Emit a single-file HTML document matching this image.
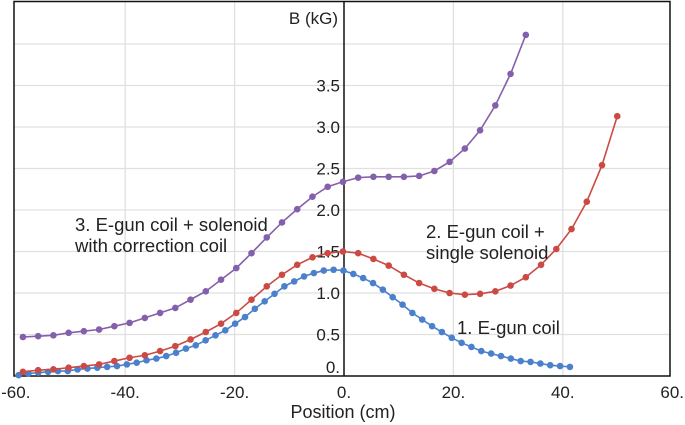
<!DOCTYPE html>
<html><head><meta charset="utf-8"><style>
html,body{margin:0;padding:0;background:#fff;}
svg{display:block;font-family:"Liberation Sans","DejaVu Sans",sans-serif;}
</style></head><body>
<svg id="chart" width="685" height="425" viewBox="0 0 685 425"></svg>
<script>
const xTicks=[-60,-40,-20,0,20,40,60];
const xTickLabels=["-60.","-40.","-20.","0.","20.","40.","60."];
const yTicks=[0,0.5,1.0,1.5,2.0,2.5,3.0,3.5];
const yTickLabels=["0.","0.5","1.0","1.5","2.0","2.5","3.0","3.5"];
const yGrid=[0.5,1.0,1.5,2.0,2.5,3.0,3.5,4.0];
const blueStart=-59.5, blueStep=1.8;
const blueB=[0.01,0.03,0.04,0.05,0.06,0.06,0.08,0.09,0.10,0.11,0.12,0.14,0.16,0.19,0.21,0.24,0.28,0.33,0.37,0.43,0.49,0.55,0.63,0.71,0.81,0.90,0.99,1.08,1.14,1.20,1.24,1.27,1.28,1.27,
1.23,1.18,1.12,1.04,0.95,0.86,0.76,0.68,0.60,0.53,0.46,0.40,0.35,0.30,0.27,0.24,0.21,0.18,0.17,0.15,0.13,0.12,0.11];
const redStart=-58.7, redStep=2.786;
const redB=[0.05,0.07,0.08,0.10,0.12,0.14,0.18,0.22,0.25,0.30,0.36,0.44,0.53,0.63,0.76,0.92,1.08,1.22,1.34,1.43,1.48,1.50,
1.48,1.41,1.33,1.22,1.12,1.05,1.00,0.98,0.99,1.02,1.09,1.19,1.34,1.53,1.77,2.10,2.54,3.13];
const purpleStart=-58.7, purpleStep=2.786;
const purpleB=[0.47,0.48,0.49,0.52,0.54,0.56,0.60,0.64,0.70,0.76,0.82,0.92,1.02,1.16,1.30,1.48,1.67,1.85,2.01,2.16,2.28,2.34,
2.39,2.40,2.40,2.40,2.41,2.47,2.58,2.74,2.96,3.26,3.64,4.11];

const NS="http://www.w3.org/2000/svg";
const svg=document.getElementById('chart');
const X=v=>344+v*5.47;
const Y=v=>376-v*83;
function mk(tag,attrs,parent){const e=document.createElementNS(NS,tag);for(const k in attrs)e.setAttribute(k,attrs[k]);(parent||svg).appendChild(e);return e;}

xTicks.forEach(t=>{ if(t===0||Math.abs(t)===60) return;
  const l=mk('line',{x1:X(t),x2:X(t),y1:2,y2:376,stroke:'#e0e0e0','stroke-width':1.3});
  
  
});
yGrid.forEach(t=>{
  const l=mk('line',{x1:14,x2:670,y1:Y(t),y2:Y(t),stroke:'#e0e0e0','stroke-width':1.3});
  
  
});
const fr=mk('rect',{x:14,y:1.5,width:656,height:374.5,fill:'none',stroke:'#111','stroke-width':1.5});


const ya=mk('line',{x1:X(0),x2:X(0),y1:1.5,y2:376,stroke:'#111','stroke-width':1.5});



xTicks.forEach((t,i)=>{
  const e=mk('text',{x:X(t),y:398,'text-anchor':'middle','font-size':17,fill:'#222'});
  e.textContent=xTickLabels[i];
  
  
});
yTicks.forEach((t,i)=>{
  const e=mk('text',{x:340,y:Y(t)+(t===0?-3:6),'text-anchor':'end','font-size':17,fill:'#222'});
  e.textContent=yTickLabels[i];
  
  
});
const yt=mk('text',{x:338,y:24,'text-anchor':'end','font-size':17,fill:'#222'});
yt.textContent='B (kG)';


const xt=mk('text',{x:343,y:418,'text-anchor':'middle','font-size':18,fill:'#222'});
xt.textContent='Position (cm)';



function series(vals,start,step,color,name){
  const pts=vals.map((v,i)=>[X(start+i*step),Y(v)]);
  const g=mk('g',{});
  
  
  const p=mk('polyline',{points:pts.map(p=>p.join(',')).join(' '),fill:'none',stroke:color,'stroke-width':1.6},g);
  
  
  pts.forEach(q=>{
    const c=mk('circle',{cx:q[0],cy:q[1],r:3.3,fill:color},g);
    
    
  });
}
series(blueB,blueStart,blueStep,'#4a80cc','series-egun-coil');
series(redB,redStart,redStep,'#cc4a44','series-single-solenoid');
series(purpleB,purpleStart,purpleStep,'#8460ac','series-correction-coil');

function label(lines,x,y,name){
  lines.forEach((s,i)=>{
    const e=mk('text',{x:x,y:y+i*21,'font-size':18.5,fill:'#222'});
    e.textContent=s;
    
    
  });
}
label(['3. E-gun coil + solenoid','with correction coil'],75,231,'annotation-correction-coil');
label(['2. E-gun coil +','single solenoid'],426,238,'annotation-single-solenoid');
label(['1. E-gun coil'],457,334,'annotation-egun-coil');
</script>
</body></html>
